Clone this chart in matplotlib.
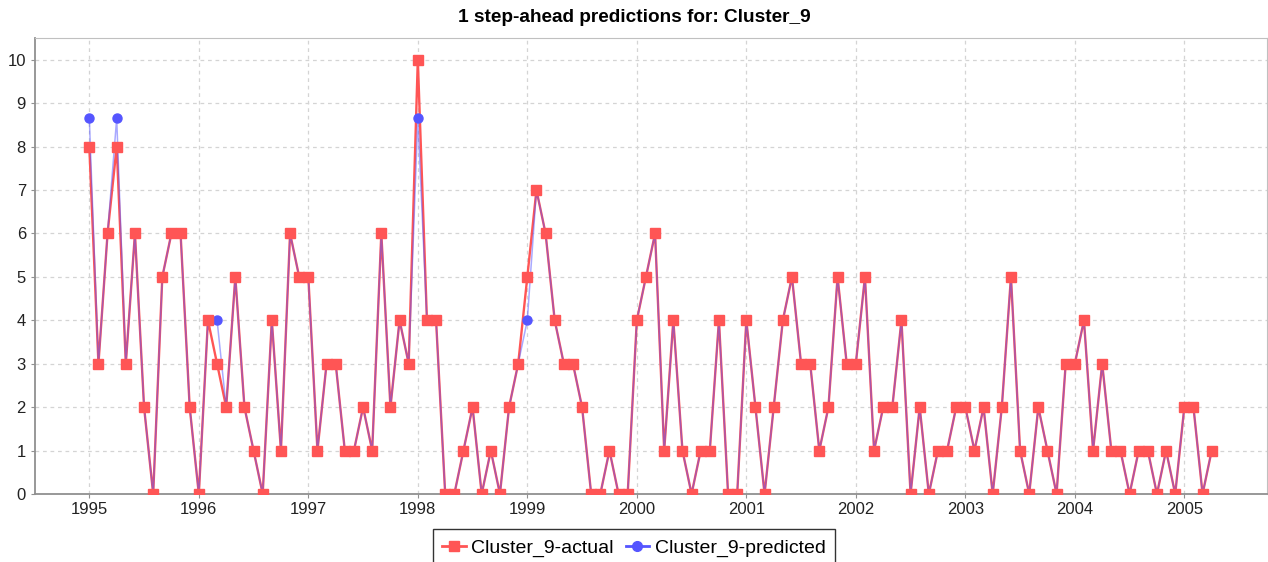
import matplotlib
matplotlib.use("Agg")
import matplotlib.pyplot as plt
import numpy as np

# monthly values, Jan 1995 .. Apr 2005
actual = [
    8, 3, 6, 8, 3, 6, 2, 0, 5, 6, 6, 2,    # 1995
    0, 4, 3, 2, 5, 2, 1, 0, 4, 1, 6, 5,    # 1996
    5, 1, 3, 3, 1, 1, 2, 1, 6, 2, 4, 3,    # 1997
    10, 4, 4, 0, 0, 1, 2, 0, 1, 0, 2, 3,   # 1998
    5, 7, 6, 4, 3, 3, 2, 0, 0, 1, 0, 0,    # 1999
    4, 5, 6, 1, 4, 1, 0, 1, 1, 4, 0, 0,    # 2000
    4, 2, 0, 2, 4, 5, 3, 3, 1, 2, 5, 3,    # 2001
    3, 5, 1, 2, 2, 4, 0, 2, 0, 1, 1, 2,    # 2002
    2, 1, 2, 0, 2, 5, 1, 0, 2, 1, 0, 3,    # 2003
    3, 4, 1, 3, 1, 1, 0, 1, 1, 0, 1, 0,    # 2004
    2, 2, 0, 1,                            # 2005
]
predicted = [
    8.65, 3, 6, 8.65, 3, 6, 2, 0, 5, 6, 6, 2,
    0, 4, 4, 2, 5, 2, 1, 0, 4, 1, 6, 5,
    5, 1, 3, 3, 1, 1, 2, 1, 6, 2, 4, 3,
    8.65, 4, 4, 0, 0, 1, 2, 0, 1, 0, 2, 3,
    4, 7, 6, 4, 3, 3, 2, 0, 0, 1, 0, 0,
    4, 5, 6, 1, 4, 1, 0, 1, 1, 4, 0, 0,
    4, 2, 0, 2, 4, 5, 3, 3, 1, 2, 5, 3,
    3, 5, 1, 2, 2, 4, 0, 2, 0, 1, 1, 2,
    2, 1, 2, 0, 2, 5, 1, 0, 2, 1, 0, 3,
    3, 4, 1, 3, 1, 1, 0, 1, 1, 0, 1, 0,
    2, 2, 0, 1,
]
start_year = 1995
year_ticks = list(range(1995, 2006))

t = start_year + np.arange(len(actual)) / 12.0

plt.rcParams["font.family"] = ["Liberation Sans", "DejaVu Sans"]

fig = plt.figure(figsize=(12.68, 5.62), dpi=100)
ax = fig.add_axes([35 / 1268, 1 - 494 / 562, (1267 - 35) / 1268, (494 - 38) / 562])

red = "#FF5555"
blue = "#5555FF"

ax.plot(t, actual, color=red, lw=1.7, zorder=3)
ax.plot(t, predicted, color=blue, lw=1.1, alpha=0.5, zorder=4)
ax.plot(t, predicted, ls="none", marker="o", ms=6.5, color=blue, zorder=5)
ax.plot(t, actual, ls="none", marker="s", ms=7.8, color=red, zorder=6)

ax.set_xlim(1994.504, 2005.755)
ax.set_ylim(0, 10.5)
ax.set_xticks(year_ticks)
ax.set_xticklabels([str(y) for y in year_ticks])
ax.set_yticks(range(0, 11))

ax.grid(True, color="#d4d4d4", linestyle=(0, (3, 3)), linewidth=0.9)
ax.set_axisbelow(True)
for side in ["top", "right"]:
    ax.spines[side].set_color("#c0c0c0")
for side in ["left", "bottom"]:
    ax.spines[side].set_color("#909090")
    ax.spines[side].set_linewidth(1.3)
ax.tick_params(axis="both", length=3, color="#909090", labelsize=12, labelcolor="#222222")
ax.tick_params(axis="x", pad=3)

fig.suptitle("1 step-ahead predictions for: Cluster_9", fontsize=13.7,
             fontweight="bold", x=0.5, y=1 - 9 / 562, va="top")

handles = [
    plt.Line2D([], [], color=red, lw=2, marker="s", ms=7.5),
    plt.Line2D([], [], color=blue, lw=2, marker="o", ms=7),
]
leg = fig.legend(handles, ["Cluster_9-actual", "Cluster_9-predicted"],
                 loc="upper center", bbox_to_anchor=(634 / 1268, 1 - 529 / 562),
                 ncol=2, fontsize=14, frameon=True, fancybox=False,
                 handlelength=1.2, handletextpad=0.3, columnspacing=0.6,
                 borderpad=0.5, borderaxespad=0, edgecolor="black")
leg.get_frame().set_linewidth(1.0)

fig.savefig("out.png", dpi=100)
